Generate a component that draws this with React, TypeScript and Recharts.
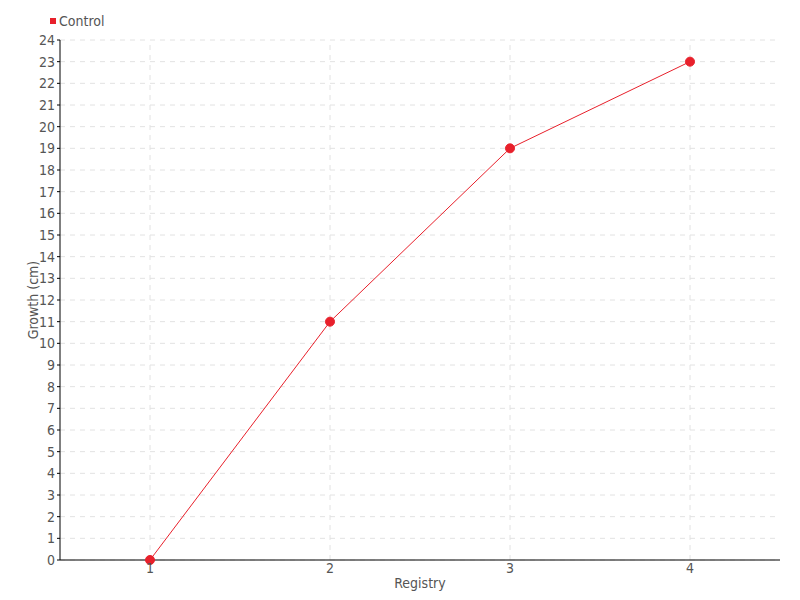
import React from "react";
import { LineChart, Line, XAxis, YAxis, CartesianGrid, Label, ReferenceLine } from "recharts";

const registry = ["1", "2", "3", "4"];
const control = [0, 11, 19, 23];
const yTicks = [0, 1, 2, 3, 4, 5, 6, 7, 8, 9, 10, 11, 12, 13, 14, 15, 16, 17, 18, 19, 20, 21, 22, 23, 24];

const FONT = "'DejaVu Sans Condensed', 'Roboto', sans-serif";
const RED = "#e8202b";
const TEXT = "#555";
const GRID = "#e2e2e2";

export default function App() {
  const data = registry.map((r, i) => ({ registry: r, control: control[i] }));

  return (
    <div style={{ position: "absolute", left: 0, top: 0, width: 800, height: 600, background: "#fff", fontFamily: FONT }}>
      {/* legend */}
      <div style={{ position: "absolute", left: 50, top: 13, display: "flex", alignItems: "center", fontSize: 14, color: TEXT }}>
        <span style={{ width: 6, height: 6, background: RED, display: "inline-block", marginRight: 3 }} />
        Control
      </div>
      <LineChart width={800} height={600} data={data} margin={{ top: 40, right: 20, left: 0, bottom: 0 }}>
        <CartesianGrid stroke={GRID} strokeDasharray="5 5" vertical={false} />
        {registry.map((r) => (
          <ReferenceLine key={r} x={r} stroke={GRID} strokeDasharray="5 5" />
        ))}
        <XAxis
          dataKey="registry"
          height={40}
          padding={{ left: 90, right: 90 }}
          stroke="#000"
          tickLine={false}
          tickSize={0}
          tickMargin={3}
          tick={{ fill: TEXT, fontSize: 14, fontFamily: FONT }}
        >
          <Label value="Registry" position="insideBottom" offset={12} style={{ fill: TEXT, fontSize: 14, fontFamily: FONT }} />
        </XAxis>
        <YAxis
          width={60}
          domain={[0, 24]}
          ticks={yTicks}
          interval={0}
          stroke="#000"
          tickSize={3}
          tick={{ fill: TEXT, fontSize: 14, fontFamily: FONT }}
        >
          <Label value="Growth (cm)" angle={-90} position="insideLeft" offset={33} style={{ fill: TEXT, fontSize: 14, fontFamily: FONT, textAnchor: "middle" }} />
        </YAxis>
        <Line
          type="linear"
          dataKey="control"
          stroke={RED}
          strokeWidth={1}
          dot={{ r: 4.5, fill: RED, stroke: RED, strokeWidth: 1 }}
          activeDot={false}
          isAnimationActive={false}
        />
      </LineChart>
    </div>
  );
}
